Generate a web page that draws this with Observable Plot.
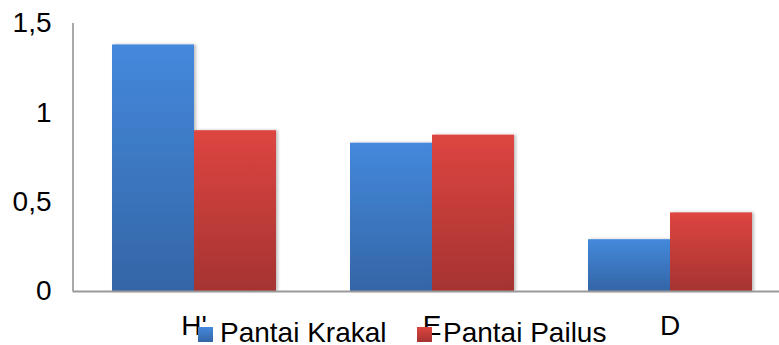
<!DOCTYPE html>
<html><head><meta charset="utf-8">
<script src="https://cdn.jsdelivr.net/npm/d3@7"></script>
<script src="https://cdn.jsdelivr.net/npm/@observablehq/plot@0.6"></script>
<style>
html,body{margin:0;padding:0;background:#fff;overflow:hidden}
</style>
</head><body><div id="chart"></div>
<script>
const categories = ["H'", "E", "D"];
const series = ["Pantai Krakal", "Pantai Pailus"];
const krakal = [1.38, 0.83, 0.29];
const pailus = [0.90, 0.875, 0.44];
const yTicks = [0, 0.5, 1, 1.5];
const gradients = [
  {id: "gradBlue", top: "#4489DC", bottom: "#3465A6"},
  {id: "gradRed", top: "#DE4541", bottom: "#A53331"}
];

const data = categories.flatMap((c, i) => [
  {cat: c, series: series[0], value: krakal[i]},
  {cat: c, series: series[1], value: pailus[i]}
]);

const font = "'Liberation Sans', Arial, sans-serif";

const plot = Plot.plot({
  width: 779, height: 345,
  marginLeft: 74, marginRight: -10.5, marginTop: 23, marginBottom: 54,
  style: {fontFamily: font, fontSize: "28px", color: "#000", background: "#fff", overflow: "visible"},
  fx: {domain: categories, paddingInner: 0.308, paddingOuter: 0.154, label: null, axis: "bottom", tickSize: 0, tickPadding: 24},
  x: {domain: series, padding: 0, axis: null},
  y: {domain: [0, 1.5], ticks: yTicks, tickFormat: d => String(d).replace(".", ","), tickSize: 0, tickPadding: 60, label: null},
  color: {domain: series, range: gradients.map(g => `url(#${g.id})`)},
  marks: [
    Plot.barY(data, {fx: "cat", x: "series", y: "value", fill: "series", inset: 0})
  ]
});

document.getElementById("chart").appendChild(plot);

const svg = d3.select(plot);
const defs = svg.insert("defs", ":first-child");
gradients.forEach(g => {
  const lg = defs.append("linearGradient").attr("id", g.id).attr("x1", 0).attr("y1", 0).attr("x2", 0).attr("y2", 1);
  lg.append("stop").attr("offset", "0%").attr("stop-color", g.top);
  lg.append("stop").attr("offset", "100%").attr("stop-color", g.bottom);
});
const f = defs.append("filter").attr("id", "barShadow").attr("x", "-10%").attr("y", "-10%").attr("width", "130%").attr("height", "120%");
f.append("feDropShadow").attr("dx", 2).attr("dy", 0).attr("stdDeviation", 1.5).attr("flood-color", "#000").attr("flood-opacity", 0.25);
svg.selectAll("rect").filter(function() { return /url\(#grad/.test(this.getAttribute("fill") || ""); }).attr("filter", "url(#barShadow)");

const y = plot.scale("y");
const y0 = y.apply(0), yTop = y.apply(1.5);
const axisG = svg.append("g");
axisG.append("line").attr("x1", 73).attr("x2", 73).attr("y1", yTop).attr("y2", y0)
  .attr("stroke", "#8c8c8c").attr("stroke-width", 1.5);
axisG.append("line").attr("x1", 72.5).attr("x2", 779).attr("y1", y0 + 0.5).attr("y2", y0 + 0.5)
  .attr("stroke", "#999").attr("stroke-width", 2.2);

// legend
const legendColors = gradients.map(g => `url(#${g.id})`);
const legendPos = [{sx: 198, tx: 220}, {sx: 417, tx: 443}];
const lg = svg.append("g").attr("font-family", font).attr("font-size", 28).attr("fill", "#000").attr("text-anchor", "start");
series.forEach((s, i) => {
  lg.append("rect").attr("x", legendPos[i].sx).attr("y", 327).attr("width", 15).attr("height", 15).attr("fill", legendColors[i]);
  lg.append("text").attr("x", legendPos[i].tx).attr("y", 342).text(s);
});
</script>
</body></html>
